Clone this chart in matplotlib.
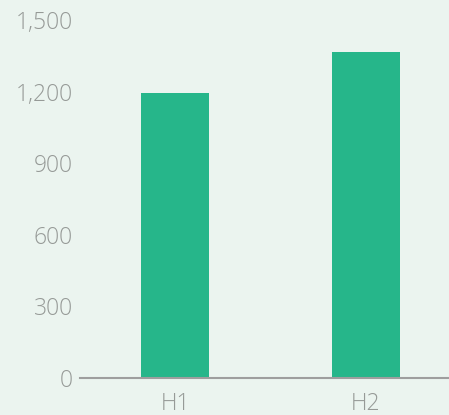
import matplotlib
matplotlib.use("Agg")
import matplotlib.pyplot as plt
from matplotlib.ticker import FuncFormatter

# data
categories = ["H1", "H2"]
values = [1195, 1365]
y_ticks = [0, 300, 600, 900, 1200, 1500]

bg = "#ebf4ef"
bar_color = "#26b68a"
text_color = "#969a97"

plt.rcParams["font.family"] = ["Open Sans", "DejaVu Sans"]

fig = plt.figure(figsize=(4.49, 4.15), dpi=100, facecolor=bg)
ax = fig.add_axes([80 / 449, 37 / 415, 369 / 449, 358 / 415])
ax.set_facecolor(bg)

x = range(len(categories))
ax.bar(x, values, width=0.356, color=bar_color, zorder=2)

ax.set_xlim(-0.5, 1.436)
ax.set_ylim(0, 1500)
ax.set_yticks(y_ticks)
ax.yaxis.set_major_formatter(FuncFormatter(lambda v, p: f"{int(v):,}"))
ax.set_xticks(list(x))
ax.set_xticklabels(categories)

for side in ["top", "right", "left"]:
    ax.spines[side].set_visible(False)
ax.spines["bottom"].set_color("#9e9e9e")
ax.spines["bottom"].set_linewidth(1.5)

ax.tick_params(axis="both", length=0, colors=text_color, labelsize=16.5)
ax.tick_params(axis="y", pad=5)
ax.tick_params(axis="x", pad=10)
for lbl in ax.get_xticklabels() + ax.get_yticklabels():
    lbl.set_fontweight("light")

fig.savefig("out.png", dpi=100, facecolor=bg)
